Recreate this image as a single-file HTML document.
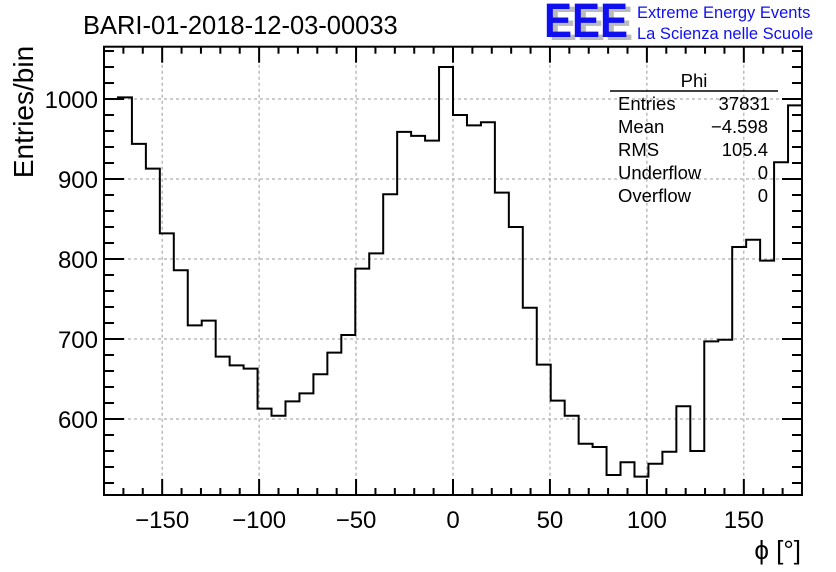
<!DOCTYPE html>
<html><head><meta charset="utf-8"><style>
html,body{margin:0;padding:0;background:#fff}
svg{display:block;font-family:"Liberation Sans",sans-serif}
</style></head><body>
<svg id="c" width="836" height="572" viewBox="0 0 836 572">
<text x="83" y="34" font-size="25.5" fill="#000">BARI-01-2018-12-03-00033</text>
<g>
<text x="549" y="40" font-size="48" font-weight="bold" fill="#bbb" textLength="84" lengthAdjust="spacingAndGlyphs">EEE</text>
<text x="544" y="37" font-size="48" font-weight="bold" fill="#1010ee" textLength="84" lengthAdjust="spacingAndGlyphs">EEE</text>
<text x="637" y="18" font-size="16.5" fill="#1010ee">Extreme Energy Events</text>
<text x="637" y="39" font-size="16.5" fill="#1010ee">La Scienza nelle Scuole</text>
</g>
<g id="grid"></g>
<g id="axes"></g>
<path id="hist" fill="none" stroke="#000" stroke-width="2"/>
<g font-size="18.5">
<text x="694" y="87" text-anchor="middle">Phi</text>
<line x1="610" y1="91" x2="778" y2="91" stroke="#000" stroke-width="1.5"/>
<text x="618" y="110">Entries</text><text x="770" y="110" text-anchor="end">37831</text>
<text x="618" y="133">Mean</text><text x="768" y="133" text-anchor="end">−4.598</text>
<text x="618" y="156">RMS</text><text x="768" y="156" text-anchor="end">105.4</text>
<text x="618" y="179">Underflow</text><text x="768" y="179" text-anchor="end">0</text>
<text x="618" y="202">Overflow</text><text x="768" y="202" text-anchor="end">0</text>
</g>
<text transform="translate(33,112) rotate(-90)" font-size="28" text-anchor="middle">Entries/bin</text>
<text x="801" y="559" font-size="26" text-anchor="end">ϕ [°]</text>
</svg>
<script>
const binCounts = [1000,1002,944,913,832,786,717,723,678,667,663,613,604,622,632,656,683,705,788,807,881,959,954,948,1040,980,967,971,883,840,739,668,623,604,569,565,530,546,528,544,559,616,560,697,699,815,824,798,921,992];
const xTicks = [-150,-100,-50,0,50,100,150];
const yTicks = [600,700,800,900,1000];
const xMin=-180,xMax=180,yMin=505,yMax=1065.4;
const L=104,R=802,T=46.7,B=495;
const sx=v=>L+(v-xMin)/(xMax-xMin)*(R-L);
const sy=v=>B-(v-yMin)/(yMax-yMin)*(B-T);
const NS="http://www.w3.org/2000/svg";
function mk(tag,attrs,parent){const e=document.createElementNS(NS,tag);for(const k in attrs)e.setAttribute(k,attrs[k]);parent.appendChild(e);return e;}
const grid=document.getElementById('grid'),axes=document.getElementById('axes');
xTicks.forEach(t=>{const g=mk('line',{x1:sx(t),x2:sx(t),y1:T,y2:B,stroke:'#999','stroke-dasharray':'3,3','stroke-width':1},grid);

});
yTicks.forEach(t=>{const g=mk('line',{x1:L,x2:R,y1:sy(t),y2:sy(t),stroke:'#999','stroke-dasharray':'3,3','stroke-width':1},grid);

});
const fr=mk('rect',{x:L,y:T,width:R-L,height:B-T,fill:'none',stroke:'#000','stroke-width':2},axes);


for(let v=-180;v<=180;v+=10){const maj=v%50===0;const len=maj?16:7;
mk('line',{x1:sx(v),x2:sx(v),y1:B,y2:B-len,stroke:'#000','stroke-width':2},axes);
mk('line',{x1:sx(v),x2:sx(v),y1:T,y2:T+len,stroke:'#000','stroke-width':2},axes);}
for(let v=520;v<=1060;v+=20){const maj=v%100===0;const len=maj?20:10;
mk('line',{x1:L,x2:L+len,y1:sy(v),y2:sy(v),stroke:'#000','stroke-width':2},axes);
mk('line',{x1:R,x2:R-len,y1:sy(v),y2:sy(v),stroke:'#000','stroke-width':2},axes);}
xTicks.forEach(t=>{const tx=mk('text',{x:sx(t),y:528,'font-size':24,'text-anchor':'middle'},axes);
tx.textContent=(t<0?'−'+(-t):t);

});
yTicks.forEach(t=>{const tx=mk('text',{x:98,y:sy(t)+9,'font-size':24,'text-anchor':'end'},axes);
tx.textContent=t;

});
const w=(xMax-xMin)/binCounts.length;
let d='';
binCounts.forEach((c,i)=>{const x0=sx(xMin+i*w),x1=sx(xMin+(i+1)*w),y=sy(c);
d+=(i===0?'M'+x0+','+y:'L'+x0+','+y)+'L'+x1+','+y;});
document.getElementById('hist').setAttribute('d',d);
</script>
</body></html>
